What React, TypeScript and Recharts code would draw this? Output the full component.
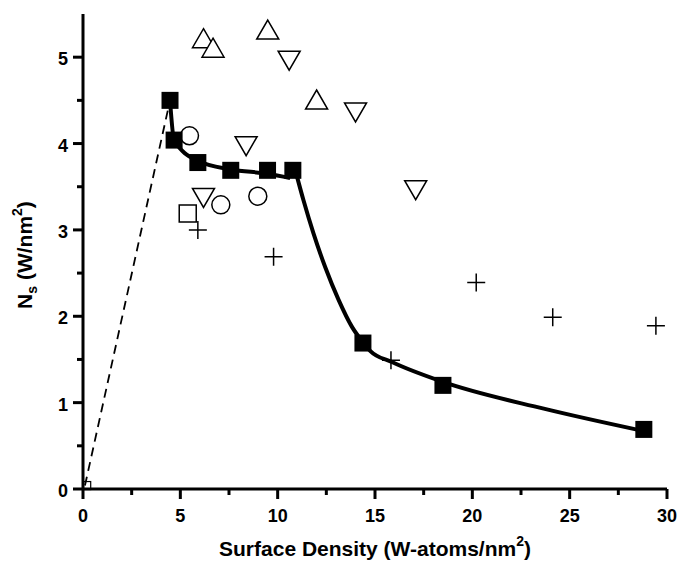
import React from "react";
import { ComposedChart, Line, Scatter, XAxis, YAxis } from "recharts";

// all values
const FILLED_SQUARES = [
  { x: 4.47, y: 4.5 }, { x: 4.68, y: 4.04 }, { x: 5.9, y: 3.78 },
  { x: 7.59, y: 3.69 }, { x: 9.48, y: 3.69 }, { x: 10.78, y: 3.69 },
  { x: 14.38, y: 1.69 }, { x: 18.49, y: 1.2 }, { x: 28.81, y: 0.69 },
];
const OPEN_SQUARES = [{ x: 5.38, y: 3.19 }];
const ORIGIN_SQUARE = [{ x: 0.19, y: 0.04 }];
const CIRCLES = [{ x: 5.47, y: 4.09 }, { x: 7.08, y: 3.29 }, { x: 8.98, y: 3.39 }];
const UP_TRIANGLES = [
  { x: 6.19, y: 5.22 }, { x: 6.68, y: 5.11 }, { x: 9.49, y: 5.32 }, { x: 12.0, y: 4.51 },
];
const DOWN_TRIANGLES = [
  { x: 10.59, y: 4.96 }, { x: 14.0, y: 4.36 }, { x: 8.38, y: 3.97 },
  { x: 6.19, y: 3.37 }, { x: 17.09, y: 3.46 },
];
const CROSSES = [
  { x: 5.9, y: 3.0 }, { x: 9.79, y: 2.69 }, { x: 15.82, y: 1.49 },
  { x: 20.2, y: 2.39 }, { x: 24.13, y: 1.99 }, { x: 29.43, y: 1.89 },
];
// fitted curves (two pieces) and the dashed guide line
const FIT_LOW = [
  { x: 4.47, y: 4.5 }, { x: 4.68, y: 4.04 }, { x: 5.9, y: 3.8 },
  { x: 7.6, y: 3.7 }, { x: 9.5, y: 3.65 }, { x: 10.64, y: 3.6 },
];
const FIT_HIGH = [
  { x: 10.99, y: 3.62 }, { x: 11.33, y: 3.34 }, { x: 11.84, y: 2.96 },
  { x: 12.44, y: 2.57 }, { x: 13.13, y: 2.19 }, { x: 13.81, y: 1.88 },
  { x: 14.41, y: 1.69 }, { x: 14.75, y: 1.6 }, { x: 15.87, y: 1.47 },
  { x: 18.49, y: 1.24 }, { x: 23.67, y: 0.93 }, { x: 28.81, y: 0.67 },
];
const DASHED = [{ x: 0.1, y: 0.04 }, { x: 4.47, y: 4.5 }];

const X_TICKS = [0, 2.5, 5, 7.5, 10, 12.5, 15, 17.5, 20, 22.5, 25, 27.5, 30];
const Y_TICKS = [0, 0.5, 1, 1.5, 2, 2.5, 3, 3.5, 4, 4.5, 5];

const FONT = "'Liberation Sans', Arial, sans-serif";

const FilledSquare = (p: any) => (
  <rect x={p.cx - 8.5} y={p.cy - 8.5} width={17} height={17} fill="#000" />
);
const OpenSquare = (p: any) => (
  <rect x={p.cx - 8.5} y={p.cy - 8.5} width={17} height={17} fill="#fff" stroke="#000" strokeWidth={1.5} />
);
const SmallSquare = (p: any) => (
  <rect x={p.cx - 4} y={p.cy - 4} width={8} height={8} fill="none" stroke="#000" strokeWidth={1.2} />
);
const Circle = (p: any) => (
  <circle cx={p.cx} cy={p.cy} r={9} fill="#fff" stroke="#000" strokeWidth={1.5} />
);
const UpTriangle = (p: any) => (
  <path
    d={`M${p.cx},${p.cy - 9.5} L${p.cx + 11},${p.cy + 9.5} L${p.cx - 11},${p.cy + 9.5} Z`}
    fill="#fff" stroke="#000" strokeWidth={1.5}
  />
);
const DownTriangle = (p: any) => (
  <path
    d={`M${p.cx - 11},${p.cy - 9.5} L${p.cx + 11},${p.cy - 9.5} L${p.cx},${p.cy + 9.5} Z`}
    fill="#fff" stroke="#000" strokeWidth={1.5}
  />
);
const Cross = (p: any) => (
  <path
    d={`M${p.cx - 9},${p.cy} H${p.cx + 9} M${p.cx},${p.cy - 9} V${p.cy + 9}`}
    stroke="#000" strokeWidth={1.5}
  />
);

function XTick({ x, y, payload }: any) {
  const major = payload.value % 5 === 0;
  return (
    <g>
      <line x1={x} x2={x} y1={y} y2={y + (major ? 10 : 6)} stroke="#000" strokeWidth={3} />
      {major && (
        <text x={x} y={y + 33} textAnchor="middle" fontSize={18} fontWeight="bold" fontFamily={FONT} fill="#000">
          {payload.value}
        </text>
      )}
    </g>
  );
}

function YTick({ x, y, payload }: any) {
  const major = payload.value % 1 === 0;
  return (
    <g>
      <line x1={x} x2={x - (major ? 10 : 6)} y1={y} y2={y} stroke="#000" strokeWidth={3} />
      {major && (
        <text x={x - 15} y={y + 8} textAnchor="end" fontSize={18} fontWeight="bold" fontFamily={FONT} fill="#000">
          {payload.value}
        </text>
      )}
    </g>
  );
}

const XTitle = () => (
  <text x={375} y={556} textAnchor="middle" fontSize={21} fontWeight="bold" fontFamily={FONT} fill="#000">
    Surface Density (W-atoms/nm
    <tspan fontSize={14} dy={-10}>2</tspan>
    <tspan dy={10}>)</tspan>
  </text>
);

const YTitle = () => (
  <text
    x={32} y={255} transform="rotate(-90, 32, 255)" textAnchor="middle"
    fontSize={21} fontWeight="bold" fontFamily={FONT} fill="#000"
  >
    N
    <tspan fontSize={14} dy={5}>s</tspan>
    <tspan dy={-5}> (W/nm</tspan>
    <tspan fontSize={14} dy={-10}>2</tspan>
    <tspan dy={10}>)</tspan>
  </text>
);

export default function App() {
  return (
    <div style={{ position: "absolute", left: 0, top: 0, background: "#fff" }}>
      <ComposedChart width={680} height={562} margin={{ top: 14, right: 13, left: 0, bottom: 0 }}>
        <XAxis
          type="number" dataKey="x" domain={[0, 30]} ticks={X_TICKS} interval={0}
          height={73} tickSize={0} tickMargin={0} tickLine={false}
          axisLine={{ stroke: "#000", strokeWidth: 3 }} tick={<XTick />}
          label={{ content: () => <XTitle /> }}
        />
        <YAxis
          type="number" dataKey="y" domain={[0, 5.5]} ticks={Y_TICKS} interval={0}
          width={83} tickSize={0} tickMargin={0} tickLine={false}
          axisLine={{ stroke: "#000", strokeWidth: 3 }} tick={<YTick />}
          label={{ content: () => <YTitle /> }}
        />
        <Line data={DASHED} dataKey="y" type="linear" stroke="#000" strokeWidth={1.8}
          strokeDasharray="9 6" dot={false} isAnimationActive={false} />
        <Line data={FIT_LOW} dataKey="y" type="monotone" stroke="#000" strokeWidth={4}
          dot={false} isAnimationActive={false} />
        <Line data={FIT_HIGH} dataKey="y" type="monotone" stroke="#000" strokeWidth={4}
          dot={false} isAnimationActive={false} />
        <Scatter data={ORIGIN_SQUARE} shape={SmallSquare} isAnimationActive={false} />
        <Scatter data={OPEN_SQUARES} shape={OpenSquare} isAnimationActive={false} />
        <Scatter data={CIRCLES} shape={Circle} isAnimationActive={false} />
        <Scatter data={UP_TRIANGLES} shape={UpTriangle} isAnimationActive={false} />
        <Scatter data={DOWN_TRIANGLES} shape={DownTriangle} isAnimationActive={false} />
        <Scatter data={CROSSES} shape={Cross} isAnimationActive={false} />
        <Scatter data={FILLED_SQUARES} shape={FilledSquare} isAnimationActive={false} />
      </ComposedChart>
    </div>
  );
}
